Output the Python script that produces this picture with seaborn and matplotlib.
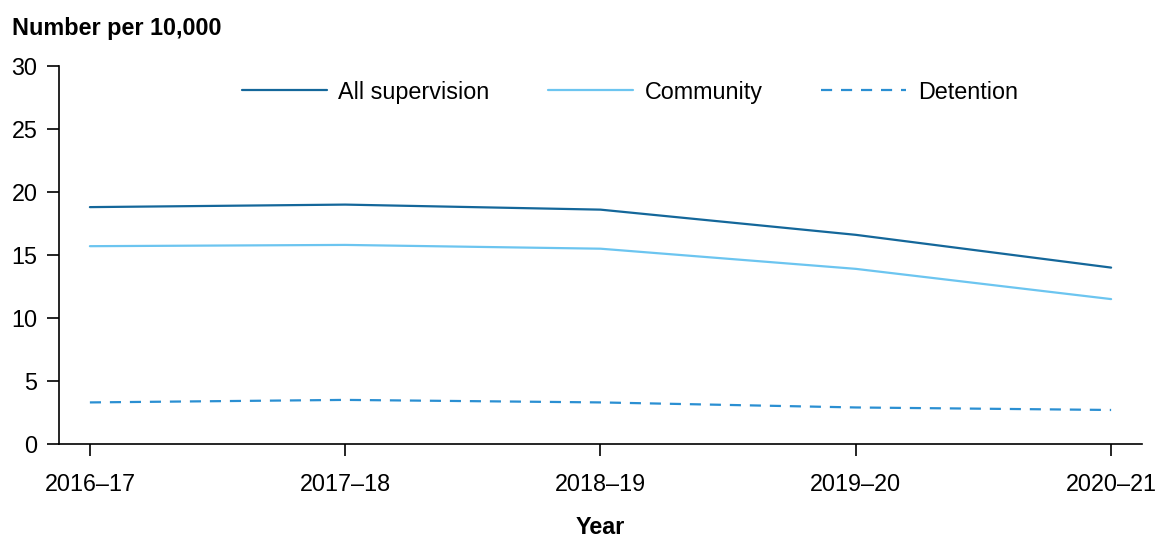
import pandas as pd
import matplotlib.pyplot as plt
import seaborn as sns

# Data
years = ["2016–17", "2017–18", "2018–19", "2019–20", "2020–21"]
all_supervision = [18.8, 19.0, 18.6, 16.6, 14.0]
community = [15.7, 15.8, 15.5, 13.9, 11.5]
detention = [3.3, 3.5, 3.3, 2.9, 2.7]

series = ["All supervision", "Community", "Detention"]
colors = {"All supervision": "#14679a", "Community": "#6cc5f0", "Detention": "#2a8fd2"}
dashes = {"All supervision": "", "Community": "", "Detention": (5, 4)}

df = pd.DataFrame({
    "Year": years,
    "All supervision": all_supervision,
    "Community": community,
    "Detention": detention,
}).melt(id_vars="Year", var_name="Series", value_name="Value")
df["x"] = df["Year"].map({y: i for i, y in enumerate(years)})

sns.set_style("white")
plt.rcParams["font.family"] = ["Liberation Sans", "DejaVu Sans"]
plt.rcParams["text.color"] = "black"
fs = 16.8

fig = plt.figure(figsize=(11.57, 5.39), dpi=100)
ax = fig.add_axes([59 / 1157, 95 / 539, 1083 / 1157, 378 / 539])

sns.lineplot(data=df, x="x", y="Value", hue="Series", style="Series",
             hue_order=series, style_order=series,
             palette=colors, dashes=dashes, linewidth=1.6, ax=ax)

ax.set_xlim(-0.121, 4.121)
ax.set_ylim(0, 30)
ax.set_xticks(range(len(years)))
ax.set_xticklabels(years)
ax.set_yticks([0, 5, 10, 15, 20, 25, 30])
ax.tick_params(axis="both", labelsize=fs, colors="black", length=8.5, width=1.2,
               direction="out", bottom=True, left=True)
ax.tick_params(axis="x", pad=12.5)
ax.tick_params(axis="y", pad=7)

for s in ["top", "right"]:
    ax.spines[s].set_visible(False)
for s in ["left", "bottom"]:
    ax.spines[s].set_color("black")
    ax.spines[s].set_linewidth(1.2)

ax.set_xlabel("Year", fontsize=fs, fontweight="bold", labelpad=14, color="black")
ax.set_ylabel("")
fig.text(12 / 1157, 1 - 28 / 539, "Number per 10,000", fontsize=fs,
         fontweight="bold", va="center", ha="left", color="black")

leg = ax.legend(loc="center", bbox_to_anchor=(0.527, 0.931), ncol=3, frameon=False,
                fontsize=fs, handlelength=3.65, handletextpad=0.5,
                columnspacing=2.5)
for line in leg.get_lines():
    line.set_linewidth(1.6)
for t in leg.get_texts():
    t.set_color("black")

fig.savefig("out.png", dpi=100)
